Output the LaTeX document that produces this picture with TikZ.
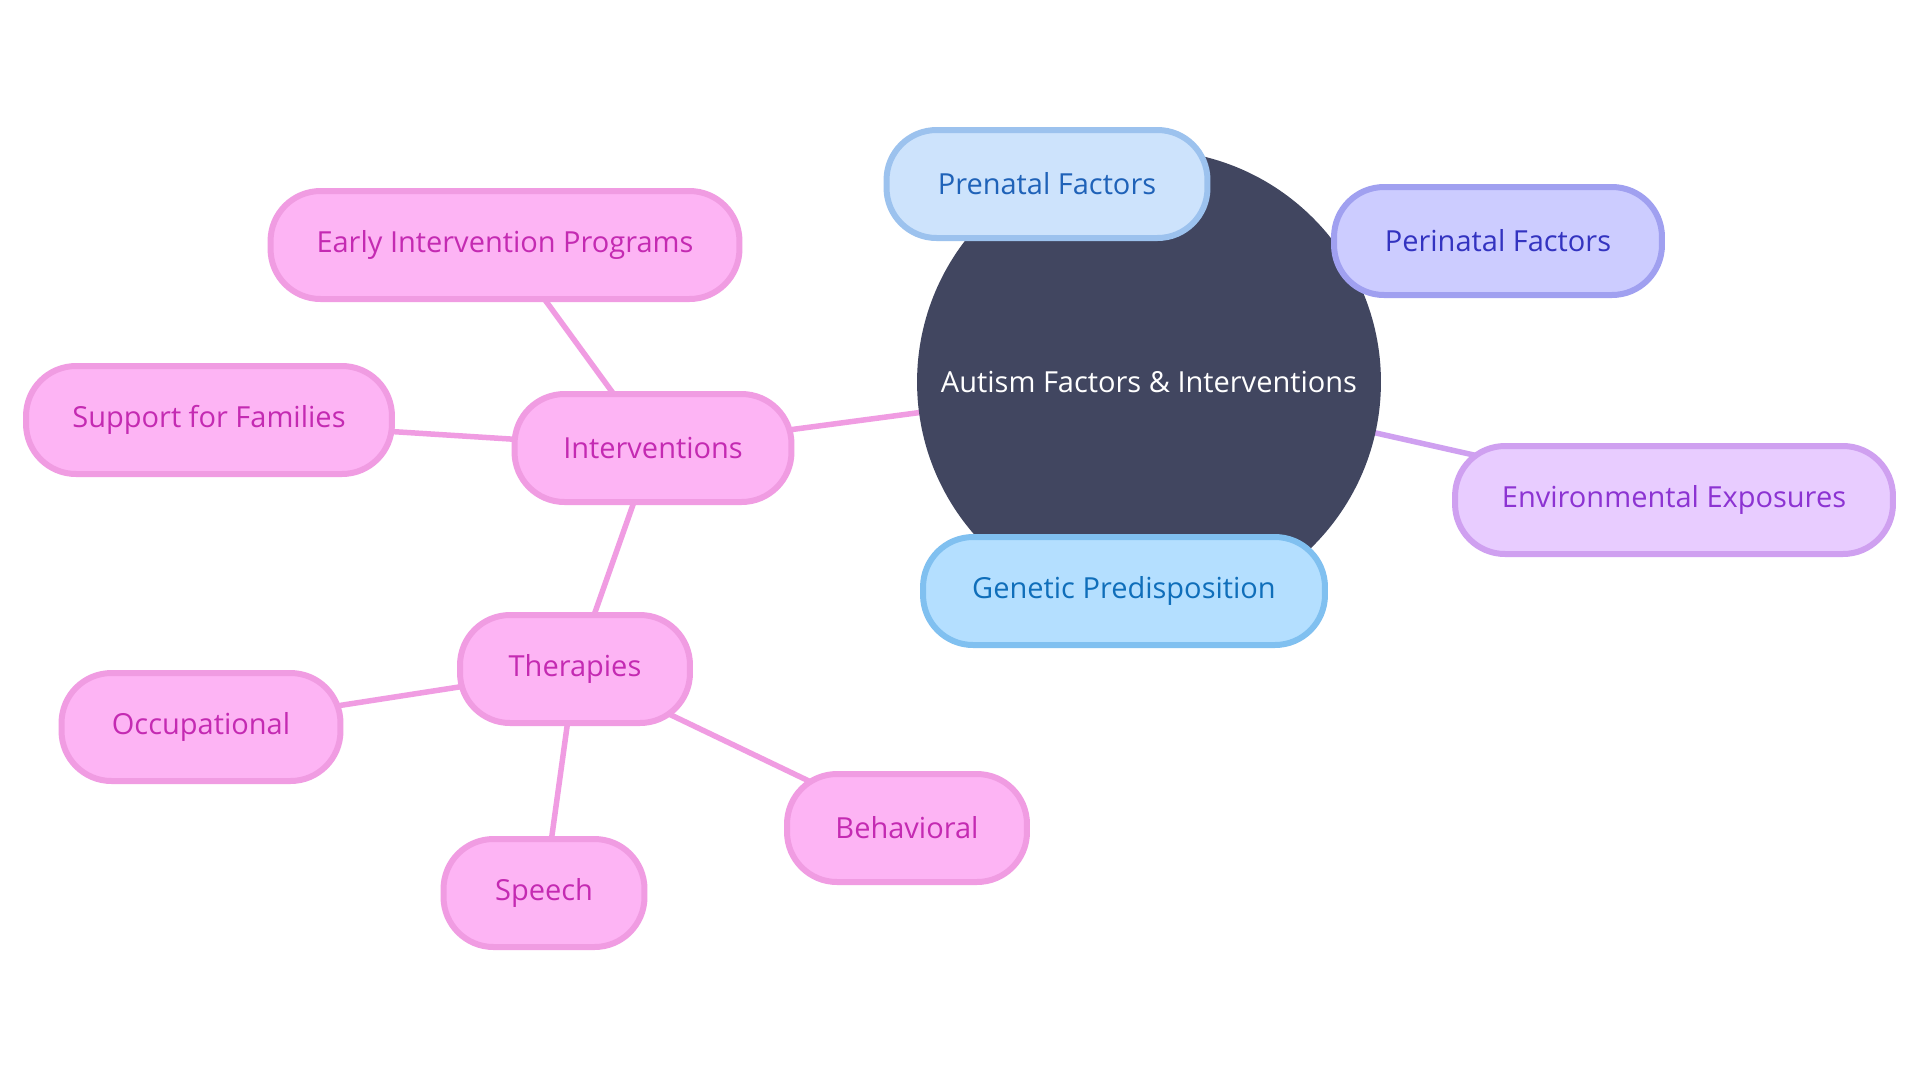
\documentclass[tikz,border=0pt]{standalone}
\usepackage{fontspec}
\setmainfont{Open Sans}
\usetikzlibrary{backgrounds}

\definecolor{rootfill}{HTML}{414660}
\definecolor{pinkfill}{HTML}{FDB4F4}
\definecolor{pinkline}{HTML}{F09CE2}
\definecolor{pinktext}{HTML}{C42AB2}
\definecolor{prefill}{HTML}{CDE3FC}
\definecolor{preline}{HTML}{9CC2EE}
\definecolor{pretext}{HTML}{1F62B8}
\definecolor{perifill}{HTML}{CCCCFF}
\definecolor{periline}{HTML}{A0A0F0}
\definecolor{peritext}{HTML}{3333C0}
\definecolor{envfill}{HTML}{E8CCFF}
\definecolor{envline}{HTML}{CFA0F0}
\definecolor{envtext}{HTML}{8C33D2}
\definecolor{genfill}{HTML}{B4DFFF}
\definecolor{genline}{HTML}{80C0F0}
\definecolor{gentext}{HTML}{0F6EBA}

\begin{document}
\begin{tikzpicture}[x=0.02cm, y=-0.02cm,
    leaf/.style={draw, line width=0.12cm, rounded corners=1cm, minimum height=2.16cm, inner sep=0pt, font=\fontsize{16.5}{20}\selectfont},
    pinkleaf/.style={leaf, fill=pinkfill, draw=pinkline, text=pinktext},
    link/.style={line width=0.11cm, draw=pinkline}]

        \useasboundingbox (0,0) rectangle (1920,1080);

        % Root
        \node[circle, fill=rootfill, text=white, minimum size=9.28cm, font=\fontsize{16.5}{20}\selectfont] (root) at (1149,382) {Autism Factors \& Interventions};

        % Factors
        \node[leaf, fill=prefill, draw=preline, text=pretext, minimum width=6.42cm] (prenatal) at (1047,184) {Prenatal Factors};
        \node[leaf, fill=perifill, draw=periline, text=peritext, minimum width=6.56cm] (perinatal) at (1498,241) {Perinatal Factors};
        \node[leaf, fill=envfill, draw=envline, text=envtext, minimum width=8.76cm] (env) at (1674,500) {Environmental Exposures};
        \node[leaf, fill=genfill, draw=genline, text=gentext, minimum width=8.04cm] (genetic) at (1124,591) {Genetic Predisposition};

        % Interventions
        \node[pinkleaf, minimum width=5.54cm] (interv) at (653,448) {Interventions};
        \node[pinkleaf, minimum width=9.38cm] (early) at (505,245) {Early Intervention Programs};
        \node[pinkleaf, minimum width=7.32cm] (support) at (209,420) {Support for Families};
        \node[pinkleaf, minimum width=4.6cm] (therapies) at (575,669) {Therapies};

        % Therapies
        \node[pinkleaf, minimum width=5.58cm] (occup) at (201,727) {Occupational};
        \node[pinkleaf, minimum width=4.02cm] (speech) at (544,893) {Speech};
        \node[pinkleaf, minimum width=4.8cm] (behav) at (907,828) {Behavioral};

        % Connections
        \begin{scope}[on background layer]
        \fill[white] (0,0) rectangle (1920,1080);
        \draw[link] (root.center) -- (interv.center);
        \draw[link, draw=envline] (root.center) -- (env.center);
        \foreach \j in {early,support,therapies}
            \draw[link] (interv.center) -- (\j.center);
        \foreach \j in {occup,speech,behav}
            \draw[link] (therapies.center) -- (\j.center);
        \end{scope}

    \end{tikzpicture}
\end{document}
